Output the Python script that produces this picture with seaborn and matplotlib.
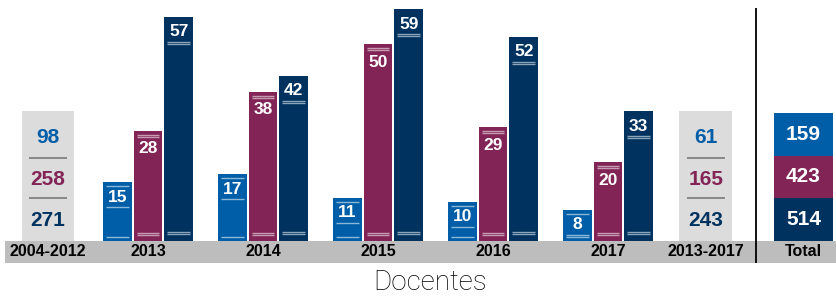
import numpy as np
import pandas as pd
import matplotlib.pyplot as plt
import seaborn as sns

sns.set_style("white")
plt.rcParams['font.family'] = ['Liberation Sans', 'DejaVu Sans']

# data
years = ["2013", "2014", "2015", "2016", "2017"]
series = ["Blue", "Purple", "Navy"]
blue_vals = [15, 17, 11, 10, 8]
purple_vals = [28, 38, 50, 29, 20]
navy_vals = [57, 42, 59, 52, 33]
before_label = "2004-2012"
before_vals = [98, 258, 271]
period_label = "2013-2017"
period_vals = [61, 165, 243]
total_label = "Total"
total_vals = [159, 423, 514]
xlabel = "Docentes"

colors = ["#005EA8", "#822456", "#003260"]
box_grey = "#DCDCDC"
band_grey = "#BDBDBD"

df = pd.DataFrame({
    "year": years * 3,
    "series": np.repeat(series, len(years)),
    "value": blue_vals + purple_vals + navy_vals,
})

fig = plt.figure(figsize=(8.37, 2.97), dpi=100)
ax = fig.add_axes([0, 0, 1, 1])

sns.barplot(data=df, x="year", y="value", hue="series", order=years,
            hue_order=series, palette=colors, saturation=1, width=0.8,
            gap=0.07, legend=False, ax=ax, zorder=3, linewidth=0,
            edgecolor="none")

# layout: 115 px per category, ~3.93 px per unit
ax.set_xlim(-1.287, 5.991)
ax.set_ylim(-14.25, 61.32)
ax.axis("off")
px = 1 / 3.93

# decorative lines and numbers inside bars
line_col = (1, 1, 1, 0.55)
for k, cont in enumerate(ax.containers):
    for bar in cont:
        x0 = bar.get_x() + 0.025
        x1 = bar.get_x() + bar.get_width() - 0.025
        cx = bar.get_x() + bar.get_width() / 2
        h = bar.get_height()
        if k == 0:
            tops, num_off, bots = [4], 15, [4]
            tops2 = [25]
        elif k == 1:
            tops, num_off, bots = [4, 6], 18, [6, 8]
            tops2 = []
        else:
            tops, num_off, bots = [], 15, [7, 9]
            tops2 = [25, 27]
        for o in tops + tops2:
            ax.hlines(h - o * px, x0, x1, colors=[line_col], lw=1, zorder=4)
        for o in bots:
            ax.hlines(o * px, x0, x1, colors=[line_col], lw=1, zorder=4)
        ax.text(cx, h - num_off * px, f"{int(h)}", ha="center", va="center",
                color="white", fontsize=12.5, fontweight="bold", zorder=5)

# summary grey boxes
box_top = 130 * px
div_col = "#7A7A7A"
for xc, vals in [(-0.87, before_vals), (4.85, period_vals)]:
    ax.bar(xc, box_top, width=0.46, color=box_grey, zorder=2, lw=0)
    ys = [103 * px, 61 * px, 20 * px]
    for v, yy, c in zip(vals, ys, colors):
        ax.text(xc, yy, f"{v}", ha="center", va="center", color=c,
                fontsize=15, fontweight="bold", zorder=5)
    for yy in [83 * px, 43 * px]:
        ax.hlines(yy, xc - 0.165, xc + 0.165, colors=div_col, lw=1.2, zorder=4)

# total stacked box
x_tot = 5.70
seg = 128 * px / 3
for i, (v, c) in enumerate(zip(total_vals, colors)):
    bottom = (2 - i) * seg
    ax.bar(x_tot, seg, bottom=bottom, width=0.52, color=c, zorder=3, lw=0)
    ax.text(x_tot, bottom + seg / 2, f"{v}", ha="center", va="center",
            color="white", fontsize=15, fontweight="bold", zorder=5)

# grey band with labels
band_h = 22 * px
ax.add_patch(plt.Rectangle((-1.243, -band_h), 7.3, band_h, color=band_grey,
                           zorder=1, lw=0))
labels = [before_label] + years + [period_label, total_label]
label_x = [-0.87, 0, 1, 2, 3, 4, 4.85, 5.70]
for lx, lab in zip(label_x, labels):
    ax.text(lx, -band_h / 2, lab, ha="center", va="center", color="black",
            fontsize=11.5, fontweight="bold", zorder=5)

# separator line
ax.vlines(5.29, -band_h, 233 * px, colors="black", lw=1.3, zorder=6)

ax.text(2.45, -42 * px, xlabel, ha="center", va="center", fontsize=20,
        family=["Roboto", "Liberation Sans"], fontweight="light", color="black")

fig.savefig("out.png", dpi=100)
